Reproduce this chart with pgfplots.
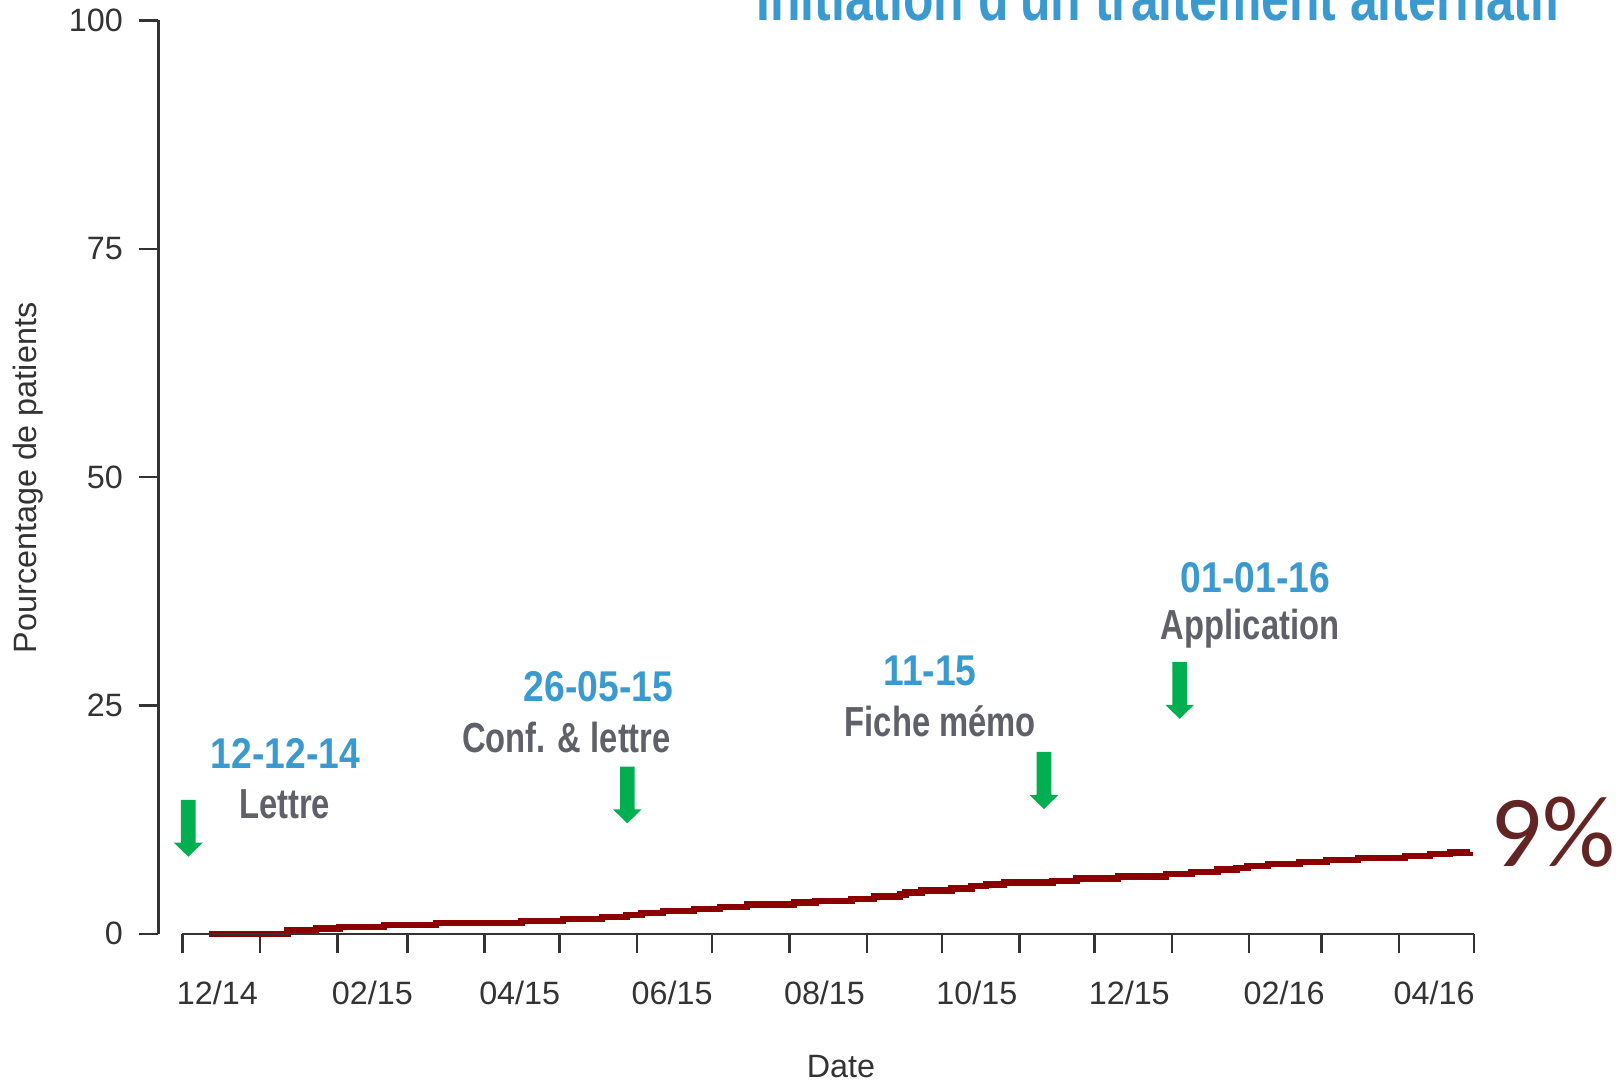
\documentclass[border=0pt]{standalone}
\usepackage{pgfplots}
\pgfplotsset{compat=1.18}
\usepackage{fontspec}
\setmainfont{Liberation Sans}
\newfontfamily\bluefont[FakeStretch=0.866]{Liberation Sans}
\newfontfamily\grayfont[FakeStretch=0.78]{Liberation Sans}
\newfontfamily\titlefont[FakeStretch=0.78]{Liberation Sans}
\newfontfamily\pctfont{Carlito}
\definecolor{axisgray}{HTML}{333333}
\definecolor{curve}{HTML}{8B0000}
\definecolor{noteblue}{HTML}{3A9AD0}
\definecolor{notegray}{HTML}{5F6068}
\definecolor{arrowgreen}{HTML}{00B050}
\definecolor{pct}{HTML}{632523}

\begin{document}
\begin{tikzpicture}
  % x in days since 1 Dec 2014, y in percent
  \begin{axis}[scale only axis, width=27.466cm, height=18.68cm,
      xmin=-9.6, xmax=540, ymin=0, ymax=102.24, clip=false,
      axis line style={draw=none}, tick pos=left,
      tick align=outside, major tick length=0.39cm,
      tick style={axisgray, line width=0.05cm},
      xtick={0,31,62,90,121,151,182,212,243,274,304,335,365,396,427,456,487,517},
      xticklabels={},
      extra x ticks={14,76,135,196,257,318,379,441,501},
      extra x tick labels={12/14,02/15,04/15,06/15,08/15,10/15,12/15,02/16,04/16},
      extra x tick style={major tick length=0pt, xticklabel style={yshift=-0.82cm}},
      ytick={0,25,50,75,100}, yticklabels={0,25,50,75,100},
      yticklabel style={xshift=-0.20cm},
      ticklabel style={font=\fontsize{18.4}{22}\selectfont, text=axisgray}]
    \addplot[const plot, curve, line width=0.13cm] coordinates {
      (10.7,0)(42.1,0.4)(53.4,0.58)(62.8,0.77)(80.6,0.95)(101.5,1.2)
      (135.7,1.42)(152.4,1.64)(168,1.86)(177.8,2.08)(183.8,2.26)(192.4,2.52)
      (204.7,2.7)(215.1,2.96)(226,3.2)(244.7,3.43)(253.4,3.61)(267.8,3.83)
      (276.9,4.08)(287.2,4.3)(289.5,4.52)(295.9,4.74)(307.8,4.96)(315.8,5.22)
      (321.6,5.4)(328.9,5.62)(348.3,5.8)(357.9,6.05)(374.5,6.27)(393.6,6.57)
      (403.9,6.79)(414.3,7.04)(421.9,7.22)(426.3,7.44)(434.5,7.66)(447.2,7.88)
      (457.9,8.1)(470.6,8.32)(489.3,8.54)(499.3,8.72)(507.3,8.9)(515.3,9.0)};
    \draw[axisgray, line width=0.05cm] (axis cs:0,0) -- (axis cs:517,0);
    \draw[axisgray, line width=0.05cm] (axis cs:-9.6,0) -- (axis cs:-9.6,100);
  \end{axis}

  % annotations, placed in reference pixels (origin top left)
  \begin{scope}[shift={(-3.17cm,18.68cm)}, x=0.02cm, y=-0.02cm]
    \node[rotate=90, text=axisgray, font=\fontsize{18.4}{22}\selectfont] at (28,478) {Pourcentage de patients};
    \node[text=axisgray, font=\fontsize{18.4}{22}\selectfont] at (841,1067) {Date};

    \node[anchor=base west, inner sep=0, text=noteblue, font=\titlefont\bfseries\fontsize{36.4}{40}\selectfont]
      at (756,21) {Initiation d'un traitement alternatif};

    \tikzset{note/.style={anchor=base, inner sep=0, text=noteblue, font=\bluefont\bfseries\fontsize{24.5}{28}\selectfont},
             sub/.style={anchor=base, inner sep=0, text=notegray, font=\grayfont\bfseries\fontsize{23.9}{28}\selectfont}}
    \node[note] at (285.5,768.3) {12-12-14};
    \node[sub]  at (284.5,818.3) {Lettre};
    \node[note] at (598.6,702) {26-05-15};
    \node[sub]  at (566.5,752.5) {Conf. \& lettre};
    \node[note] at (930,685.6) {11-15};
    \node[sub]  at (940.4,736.4) {Fiche mémo};
    \node[note] at (1255.3,592.4) {01-01-16};
    \node[sub]  at (1250.1,640) {Application};

    \foreach \c/\t/\b in {188.3/800/856.7, 627.3/766.7/823.3, 1044/752/809, 1179.7/661.8/718.8}{
      \fill[arrowgreen] (\c-7.3,\t) -- (\c+7.3,\t) -- (\c+7.3,\b-14) -- (\c+14.4,\b-14)
        -- (\c,\b) -- (\c-14.4,\b-14) -- (\c-7.3,\b-14) -- cycle;
    }

    \node[anchor=base west, inner sep=0, text=pct, font=\pctfont\fontsize{58}{64}\selectfont] at (1490,866.5) {9\%};

    \pgfresetboundingbox
    \path[use as bounding box] (0,0) rectangle (1624,1082);
  \end{scope}
\end{tikzpicture}
\end{document}
